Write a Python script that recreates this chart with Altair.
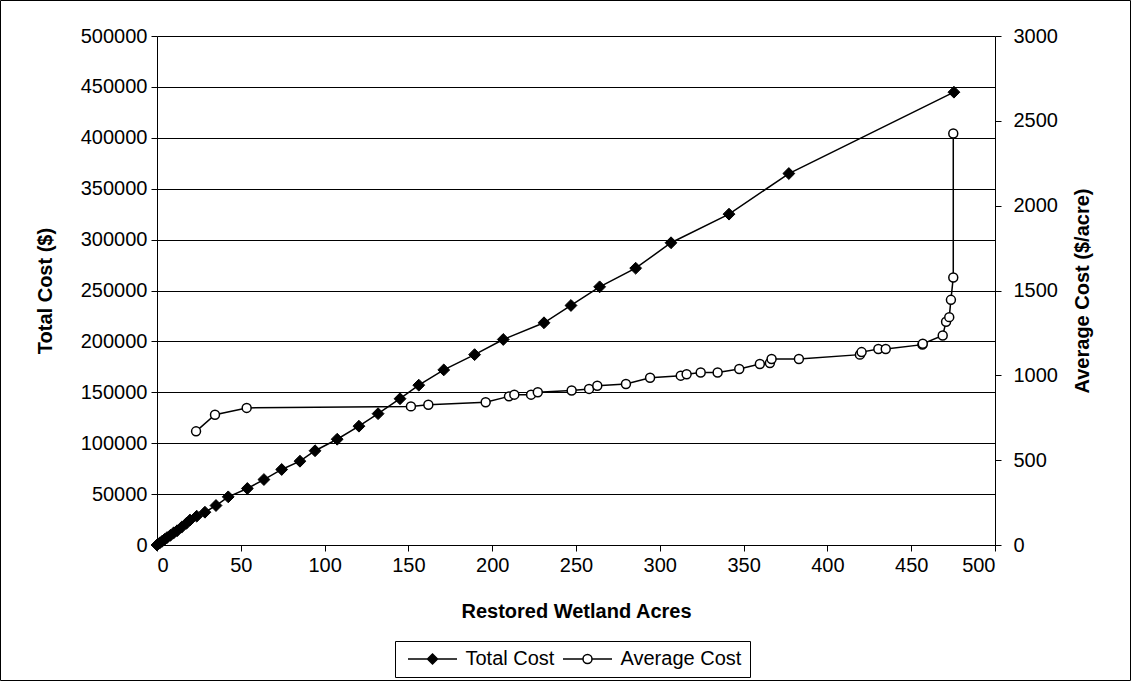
import altair as alt
import pandas as pd

FONT = "Liberation Sans"

# ---- data ----
acres_total = [0, 1.5, 3, 4.5, 6, 8, 10, 12, 14.7, 17.7, 19.7, 23.7, 28.6, 35.2, 42.5,
               53.9, 63.8, 74.4, 85.3, 94.3, 107.5, 120.5, 131.9, 145, 156.2, 171.1,
               189.5, 206.6, 230.9, 247, 264.1, 285.6, 306.7, 341.3, 377, 475.5]
cost_total = [0, 1800, 3600, 5500, 7300, 9500, 12000, 14000, 17500, 21500, 24500, 28300,
              32200, 38800, 47300, 55500, 64300, 74200, 82300, 92600, 103900, 116700,
              129000, 143700, 157000, 172000, 187000, 201900, 218300, 235300, 253600,
              271900, 296900, 325000, 364900, 444800]

acres_avg = [23.3, 34.6, 53.5, 151.5, 161.9, 196.1, 210, 213.2, 223.2, 227.2, 247.4, 257.8,
             262.7, 279.8, 294.2, 312.5, 316, 324.4, 334.5, 347.4, 359.7, 365.7, 366.7, 383,
             419.4, 420.4, 430.4, 434.8, 456.7, 456.9, 468.8, 470.8, 472.7, 473.7, 475.1, 475.1]
cost_avg = [670, 768, 808, 817, 827, 841, 876, 886, 886, 900, 911, 920, 939, 949, 986, 998,
            1006, 1017, 1017, 1037, 1067, 1073, 1096, 1096, 1122, 1137, 1155, 1155, 1181,
            1186, 1235, 1316, 1343, 1445, 1577, 2425]

series_names = ["Total Cost", "Average Cost"]
x_ticks = [0, 50, 100, 150, 200, 250, 300, 350, 400, 450, 500]
left_ticks = [0, 50000, 100000, 150000, 200000, 250000, 300000, 350000, 400000, 450000, 500000]
right_ticks = [0, 500, 1000, 1500, 2000, 2500, 3000]

df_total = pd.DataFrame({"acres": acres_total, "value": cost_total,
                         "idx": list(range(len(acres_total)))})
df_avg = pd.DataFrame({"acres": acres_avg, "value": cost_avg,
                       "idx": list(range(len(acres_avg)))})
df_legend = pd.DataFrame({"acres": [-100, -100], "value": [0, 0], "series": series_names})
df_frame = pd.DataFrame({"one": [1]})

# ---- encodings ----
x_enc = alt.X("acres:Q",
              scale=alt.Scale(domain=[0, 500], nice=False, zero=False),
              axis=alt.Axis(values=x_ticks, title="Restored Wetland Acres", grid=False,
                            tickSize=6, labelPadding=4, titleX=419, titleY=66,
                            titleBaseline="middle", titleAlign="center"))

y_left = alt.Y("value:Q",
               scale=alt.Scale(domain=[0, 500000], nice=False),
               axis=alt.Axis(orient="left", values=left_ticks, format="d", grid=True,
                             gridColor="black", gridWidth=1, tickSize=6, labelPadding=4,
                             title="Total Cost ($)", titleAngle=270, titleX=-112,
                             titleY=254.5, titleAlign="center", titleBaseline="middle"))

y_right = alt.Y("value:Q",
                scale=alt.Scale(domain=[0, 3000], nice=False),
                axis=alt.Axis(orient="right", values=right_ticks, format="d", grid=False,
                              tickSize=6, labelPadding=12,
                              title="Average Cost ($/acre)", titleAngle=270, titleX=87,
                              titleY=254.5, titleAlign="center", titleBaseline="middle"))

diamond_path = "M-4.9,0H4.9M0,-1L1,0L0,1L-1,0Z"
circle_path = ("M-4.9,0H-0.9M0.9,0H4.9M-0.9,0A0.9,0.9 0 1 1 0.9,0"
               "A0.9,0.9 0 1 1 -0.9,0Z")

leg = alt.Legend(title=None, orient="none", legendX=238, legendY=605,
                 direction="horizontal", strokeColor="black", fillColor="white",
                 padding=8, symbolSize=100, symbolStrokeColor="black",
                 symbolStrokeWidth=1.5, symbolOffset=19.5, labelOffset=23,
                 labelFont=FONT, labelFontSize=20, labelColor="black",
                 columnPadding=3)

frame = alt.Chart(df_frame).mark_rect(fill="white", fillOpacity=0, stroke="black",
                                      strokeWidth=1, clip=False).encode(
    x=alt.value(-156.5), x2=alt.value(973.5), y=alt.value(-35.5), y2=alt.value(644.5))

total_line = alt.Chart(df_total).mark_line(color="black", strokeWidth=1.5).encode(
    x=x_enc, y=y_left, order="idx:Q")
total_pts = alt.Chart(df_total).mark_point(shape="diamond", filled=True, fill="black",
                                           stroke="black", strokeWidth=1, size=140,
                                           opacity=1).encode(
    x=x_enc, y=y_left)
legend_layer = alt.Chart(df_legend).mark_point(filled=False, strokeWidth=1.5,
                                               opacity=1, clip=True).encode(
    x=x_enc, y=y_left,
    shape=alt.Shape("series:N", scale=alt.Scale(domain=series_names,
                                                range=[diamond_path, circle_path]),
                    legend=leg),
    fill=alt.Fill("series:N", scale=alt.Scale(domain=series_names,
                                              range=["black", "white"]),
                  legend=leg),
    stroke=alt.Stroke("series:N", scale=alt.Scale(domain=series_names,
                                                  range=["black", "black"]),
                      legend=leg))

avg_line = alt.Chart(df_avg).mark_line(color="black", strokeWidth=1.5).encode(
    x=x_enc, y=y_right, order="idx:Q")
avg_pts = alt.Chart(df_avg).mark_point(shape="circle", filled=True, fill="white",
                                       stroke="black", strokeWidth=1.5, size=80,
                                       opacity=1).encode(
    x=x_enc, y=y_right)

left = alt.layer(frame, total_line, total_pts, legend_layer)
right = alt.layer(avg_line, avg_pts)

chart = alt.layer(left, right).resolve_scale(y="independent").properties(
    width=838, height=509,
    autosize=alt.AutoSizeParams(type="none"),
    padding={"left": 157, "top": 36, "right": 136, "bottom": 136},
    background="white",
).configure_axis(
    labelFont=FONT, labelFontSize=20, labelColor="black",
    titleFont=FONT, titleFontSize=20, titleFontWeight="bold", titleColor="black",
    domainColor="black", domainWidth=1, tickColor="black", tickWidth=1,
).configure_view(strokeWidth=0)

chart.save("out.html", embed_options={"renderer": "svg", "actions": False})
